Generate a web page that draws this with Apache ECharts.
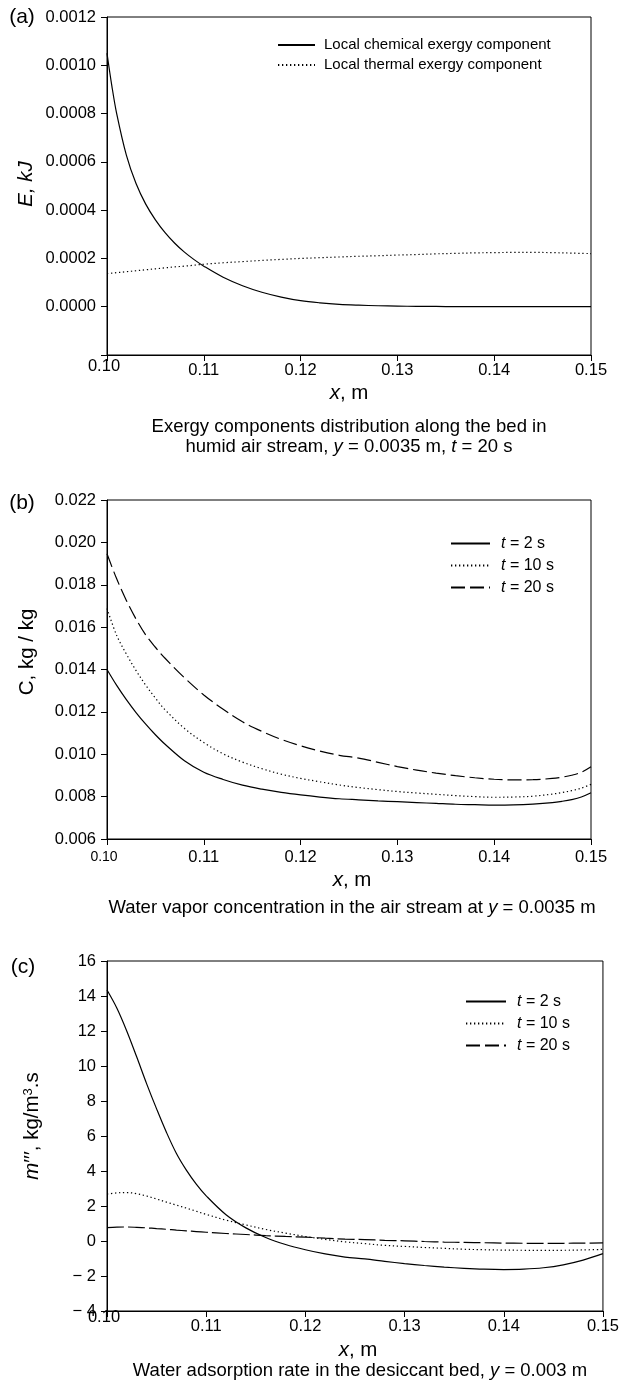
<!DOCTYPE html>
<html>
<head>
<meta charset="utf-8">
<script src="https://cdn.jsdelivr.net/npm/echarts@6/dist/echarts.min.js"></script>
<style>
html,body{margin:0;padding:0;background:#fff;}
#c{width:622px;height:1393px;}
</style>
</head>
<body>
<div id="c"></div>
<script>
// ---------- data ----------
const xTickLabels = ['0.10', '0.11', '0.12', '0.13', '0.14', '0.15'];

// panel (a)
const xA = [0.100, 0.1005, 0.101, 0.102, 0.103, 0.104, 0.105, 0.106, 0.107, 0.108, 0.109, 0.110,
  0.112, 0.114, 0.116, 0.118, 0.120, 0.122, 0.124, 0.126, 0.128, 0.130, 0.132, 0.134, 0.136,
  0.138, 0.140, 0.142, 0.144, 0.146, 0.148, 0.150];
const chemA = [0.00105, 0.000915, 0.0008, 0.000628, 0.00051, 0.000425, 0.00036, 0.000307, 0.000263,
  0.000226, 0.000195, 0.000168, 0.000122, 0.000087, 0.00006, 0.00004, 0.000025, 0.000016, 0.00001,
  0.0000065, 0.000004, 0.0000025, 0.0000015, 0.000001, 0.0000005, 0, 0, 0, 0, 0, 0, 0];
const thermA = [0.000137, 0.000139, 0.000141, 0.000145, 0.000149, 0.000153, 0.000157, 0.000161,
  0.000165, 0.000168, 0.000172, 0.000176, 0.000182, 0.000187, 0.000192, 0.000196, 0.000200, 0.000203,
  0.000206, 0.000209, 0.000211, 0.000214, 0.000216, 0.000219, 0.000221, 0.000223, 0.000224, 0.000225,
  0.000225, 0.000224, 0.000222, 0.000220];
const yTicksA = [-0.0002, 0.0012, 0.0002];

// panel (b)
const xB = [0.100, 0.101, 0.102, 0.103, 0.104, 0.105, 0.106, 0.108, 0.110, 0.112, 0.114, 0.116,
  0.118, 0.120, 0.122, 0.124, 0.126, 0.128, 0.130, 0.132, 0.134, 0.136, 0.138, 0.140, 0.142, 0.144,
  0.146, 0.147, 0.148, 0.149, 0.150];
const cB2 = [0.0140, 0.01325, 0.01258, 0.01197, 0.01142, 0.01092, 0.01047, 0.00969, 0.00915, 0.00881,
  0.00854, 0.00835, 0.0082, 0.00808, 0.00798, 0.0079, 0.00785, 0.0078, 0.00776, 0.00772, 0.00768,
  0.00764, 0.00762, 0.0076, 0.00761, 0.00765, 0.00772, 0.00778, 0.00786, 0.00798, 0.00818];
const cB10 = [0.01688, 0.01561, 0.01473, 0.01395, 0.01326, 0.01265, 0.0121, 0.01122, 0.01055, 0.01002,
  0.00963, 0.00932, 0.00906, 0.00886, 0.0087, 0.00855, 0.00843, 0.00833, 0.00824, 0.00817, 0.00811,
  0.00805, 0.008, 0.00797, 0.00798, 0.00802, 0.00812, 0.00819, 0.00828, 0.0084, 0.00858];
const cB20 = [0.01946, 0.01828, 0.01726, 0.01638, 0.01563, 0.01505, 0.01453, 0.01361, 0.0128, 0.01212,
  0.01153, 0.01108, 0.0107, 0.0104, 0.01015, 0.00995, 0.00982, 0.00962, 0.00942, 0.00925, 0.00911,
  0.00899, 0.00889, 0.00882, 0.00879, 0.0088, 0.00886, 0.00892, 0.00901, 0.00915, 0.00941];
const yTicksB = [0.006, 0.022, 0.002];

// panel (c)
const xC = [0.100, 0.101, 0.102, 0.103, 0.104, 0.105, 0.106, 0.107, 0.108, 0.109, 0.110, 0.112,
  0.114, 0.116, 0.118, 0.120, 0.122, 0.124, 0.126, 0.128, 0.130, 0.132, 0.134, 0.136, 0.138, 0.140,
  0.142, 0.144, 0.146, 0.148, 0.150];
const mC2 = [14.34, 13.3, 11.99, 10.51, 8.98, 7.55, 6.2, 5.0, 4.05, 3.25, 2.58, 1.5, 0.75, 0.2, -0.2,
  -0.5, -0.74, -0.92, -1.02, -1.16, -1.29, -1.4, -1.49, -1.56, -1.61, -1.63, -1.61, -1.53, -1.36,
  -1.09, -0.72];
const mC10 = [2.68, 2.75, 2.77, 2.70, 2.57, 2.40, 2.22, 2.05, 1.88, 1.70, 1.52, 1.19, 0.92, 0.66, 0.45,
  0.26, 0.09, -0.05, -0.15, -0.25, -0.31, -0.37, -0.42, -0.47, -0.5, -0.52, -0.53, -0.53, -0.53,
  -0.51, -0.48];
const mC20 = [0.76, 0.79, 0.80, 0.78, 0.75, 0.71, 0.67, 0.62, 0.58, 0.54, 0.5, 0.43, 0.37, 0.31, 0.26,
  0.22, 0.16, 0.11, 0.08, 0.04, 0.01, -0.03, -0.06, -0.08, -0.1, -0.12, -0.13, -0.13, -0.13, -0.12,
  -0.11];
const yTicksC = [-4, 16, 2];

const namesA = ['Local chemical exergy component', 'Local thermal exergy component'];
const namesT = ['t = 2 s', 't = 10 s', 't = 20 s'];

// ---------- chart ----------
const FF = '"Liberation Sans", Arial, Helvetica, sans-serif';
const DOT = [1.3, 2.7];
const chart = echarts.init(document.getElementById('c'), null, {renderer: 'canvas'});

function xAxisCfg(gi, margin, first) {
  return {
    type: 'value', gridIndex: gi, min: 0.1, max: 0.15, interval: 0.01,
    axisLine: {onZero: false, lineStyle: {color: '#000', width: 1}},
    axisTick: {length: 6, lineStyle: {color: '#000', width: 1}},
    splitLine: {show: false},
    axisLabel: {
      color: '#000', fontSize: 16.5, fontFamily: FF, margin: margin, verticalAlign: 'middle',
      formatter: function (v) {
        const i = Math.round((v - 0.1) / 0.01);
        return i === 0 ? '{f|' + xTickLabels[0] + '}' : xTickLabels[i];
      },
      rich: {f: Object.assign({color: '#000', fontFamily: FF, fontSize: 16.5}, first)}
    }
  };
}
function yAxisCfg(gi, t, fmt) {
  return {
    type: 'value', gridIndex: gi, min: t[0], max: t[1], interval: t[2],
    axisLine: {onZero: false, lineStyle: {color: '#000', width: 1}},
    axisTick: {length: 6, lineStyle: {color: '#000', width: 1}},
    splitLine: {show: false},
    axisLabel: {color: '#000', fontSize: 16.5, fontFamily: FF, margin: 11, formatter: fmt}
  };
}
function ser(name, xs, ys, gi, type, id) {
  return {
    id: id, type: 'line', name: name, xAxisIndex: gi, yAxisIndex: gi,
    data: xs.map(function (x, i) { return [x, ys[i]]; }),
    symbol: 'none', smooth: 0.35, silent: true,
    lineStyle: {color: '#000', width: 1.2, type: type},
    itemStyle: {color: '#000'}
  };
}
function legendCfg(names, left, top, itemW, fs, lh, gap, pad) {
  return {
    data: names, left: left, top: top, orient: 'vertical', padding: 0,
    itemWidth: itemW, itemHeight: 10, itemGap: gap, selectedMode: false,
    itemStyle: {color: 'transparent', borderColor: 'transparent', borderWidth: 0, opacity: 0},
    textStyle: {color: '#000', fontSize: fs, fontFamily: FF, lineHeight: lh, padding: [0, 0, 0, pad],
      rich: {i: {fontStyle: 'italic', fontSize: fs, fontFamily: FF, color: '#000'}}},
    formatter: function (n) { return n.charAt(0) === 't' ? '{i|t}' + n.slice(1) : n; }
  };
}
function txt(x, y, text, fs, extra) {
  return Object.assign({
    type: 'text', x: x, y: y, silent: true,
    style: {text: text, fill: '#000', fontSize: fs, fontFamily: FF, align: 'center', verticalAlign: 'middle',
      rich: {
        i: {fontStyle: 'italic', fontSize: fs, fontFamily: FF, fill: '#000'},
        s: {fontSize: Math.round(fs * 0.65), fontFamily: FF, fill: '#000', verticalAlign: 'top'}
      }}
  }, extra || {});
}

const option = {
  animation: false,
  backgroundColor: '#fff',
  grid: [
    {left: 107, top: 17, width: 484, height: 338, show: true, borderColor: '#000', borderWidth: 1},
    {left: 107, top: 500, width: 484, height: 339, show: true, borderColor: '#000', borderWidth: 1},
    {left: 107, top: 961, width: 500, height: 350, show: true, borderColor: '#000', borderWidth: 1}
  ],
  xAxis: [
    xAxisCfg(0, 15, {padding: [0, 6, 8, 0]}),
    xAxisCfg(1, 18, {fontSize: 14, padding: [0, 6, 0, 0]}),
    xAxisCfg(2, 15, {padding: [0, 6, 17, 0]})
  ],
  yAxis: [
    yAxisCfg(0, yTicksA, function (v) { return v < -1e-9 ? '' : v.toFixed(4); }),
    yAxisCfg(1, yTicksB, function (v) { return v.toFixed(3); }),
    yAxisCfg(2, yTicksC, function (v) { return v < 0 ? '\u2212 ' + Math.abs(v) : String(v); })
  ],
  legend: [
    legendCfg(namesA, 277, 37, 37, 15, 16, 4, 4),
    legendCfg(namesT, 450, 535, 39, 16, 17, 5, 6),
    legendCfg(namesT, 465, 993, 40, 16, 17, 5, 6)
  ],
  series: [
    ser(namesA[0], xA, chemA, 0, 'solid', 'a1'),
    ser(namesA[1], xA, thermA, 0, DOT, 'a2'),
    ser(namesT[0], xB, cB2, 1, 'solid', 'b1'),
    ser(namesT[1], xB, cB10, 1, DOT, 'b2'),
    ser(namesT[2], xB, cB20, 1, [14, 5], 'b3'),
    ser(namesT[0], xC, mC2, 2, 'solid', 'c1'),
    ser(namesT[1], xC, mC10, 2, DOT, 'c2'),
    ser(namesT[2], xC, mC20, 2, [17, 4], 'c3')
  ],
  graphic: [
    txt(22, 17, '(a)', 21),
    txt(22, 503, '(b)', 21),
    txt(23, 967, '(c)', 21),
    txt(26, 184, '{i|E, kJ}', 20.5, {rotation: Math.PI / 2}),
    txt(27, 652, 'C, kg / kg', 20.5, {rotation: Math.PI / 2}),
    txt(32, 1126, '{i|m}\u2032\u2032\u2032, kg/m{s|3}.s', 20.5, {rotation: Math.PI / 2}),
    txt(349, 393, '{i|x}, m', 20.5),
    txt(352, 880, '{i|x}, m', 20.5),
    txt(358, 1350, '{i|x}, m', 20.5),
    txt(349, 427, 'Exergy components distribution along the bed in', 18.5),
    txt(349, 447, 'humid air stream, {i|y} = 0.0035 m, {i|t} = 20 s', 18.5),
    txt(352, 908, 'Water vapor concentration in the air stream at {i|y} = 0.0035 m', 18.5),
    txt(360, 1371, 'Water adsorption rate in the desiccant bed, {i|y} = 0.003 m', 18.5)
  ]
};
chart.setOption(option);
</script>
</body>
</html>
